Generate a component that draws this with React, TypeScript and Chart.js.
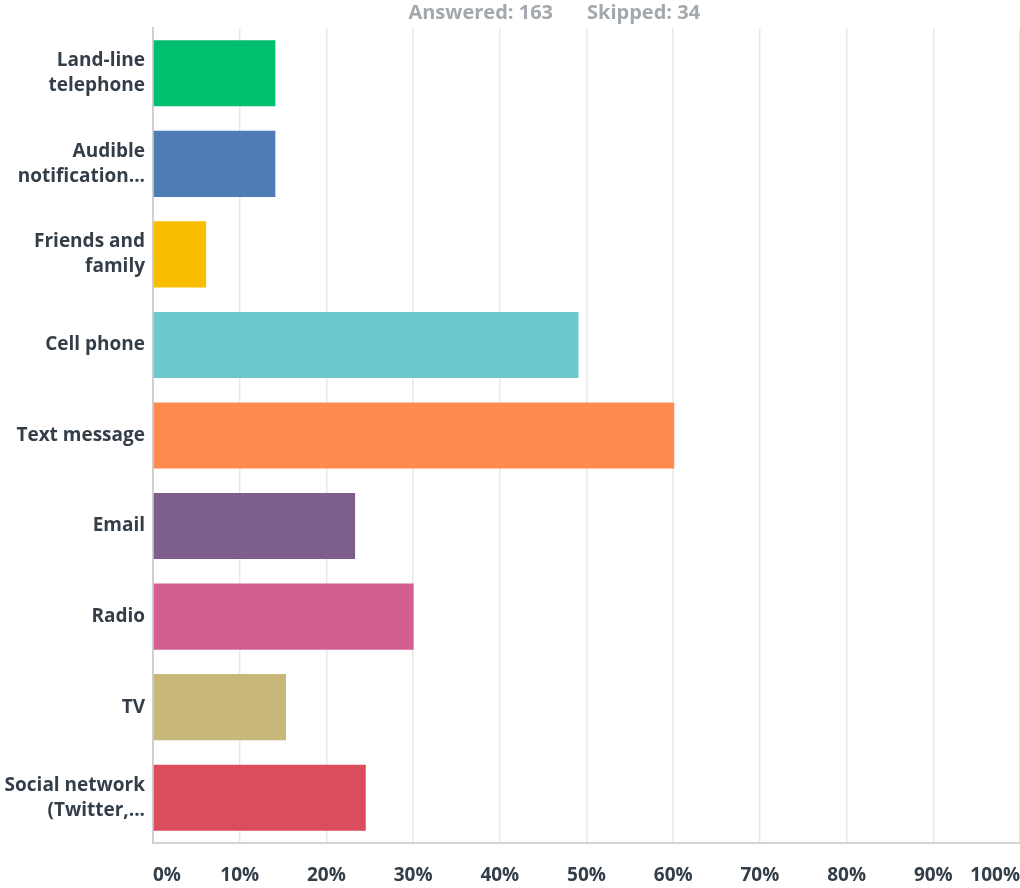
import React, { useEffect, useRef } from "react";
import { Chart, registerables } from "chart.js";

Chart.register(...registerables);

const categories: string[][] = [
  ["Land-line", "telephone"],
  ["Audible", "notification..."],
  ["Friends and", "family"],
  ["Cell phone"],
  ["Text message"],
  ["Email"],
  ["Radio"],
  ["TV"],
  ["Social network", "(Twitter,..."],
];

const percentValues: number[] = [14.11, 14.11, 6.13, 49.08, 60.12, 23.31, 30.06, 15.34, 24.54];

const barColors: string[] = [
  "#00BF6F",
  "#507CB6",
  "#F9BE00",
  "#6BC8CD",
  "#FF8B4F",
  "#7D5E8D",
  "#D25F90",
  "#C7B879",
  "#DB4D5C",
];

const answeredLabel = "Answered: 163";
const skippedLabel = "Skipped: 34";

const FONT = "'Open Sans', 'Noto Sans', sans-serif";
const TEXT_COLOR = "#333E48";

const overlayPlugin = {
  id: "overlayText",
  afterDraw(chart: any) {
    const ctx = chart.ctx;
    const xs = chart.scales.x;
    const area = chart.chartArea;
    ctx.save();
    // x tick labels
    ctx.font = `bold 19px ${FONT}`;
    ctx.fillStyle = TEXT_COLOR;
    ctx.textBaseline = "middle";
    const ticks = xs.ticks;
    ticks.forEach((t: any, i: number) => {
      const px = xs.getPixelForValue(t.value);
      ctx.textAlign = i === 0 ? "left" : i === ticks.length - 1 ? "right" : "center";
      ctx.fillText(`${t.value}%`, px, area.bottom + 33);
    });
    // header
    ctx.font = `bold 20px ${FONT}`;
    ctx.fillStyle = "#A2A8AD";
    const cx = 570;
    ctx.textAlign = "right";
    ctx.fillText(answeredLabel, cx - 17, 13);
    ctx.textAlign = "left";
    ctx.fillText(skippedLabel, cx + 17, 13);
    ctx.restore();
  },
};

export default function App() {
  const canvasRef = useRef<HTMLCanvasElement | null>(null);

  useEffect(() => {
    if (!canvasRef.current) return;
    const chart = new Chart(canvasRef.current, {
      type: "bar",
      data: {
        labels: categories,
        datasets: [
          {
            data: percentValues,
            backgroundColor: barColors,
            borderWidth: 0,
            categoryPercentage: 1,
            barPercentage: 0.73,
          },
        ],
      },
      options: {
        indexAxis: "y",
        animation: false,
        responsive: true,
        maintainAspectRatio: false,
        layout: { padding: { top: 28, left: 0, right: 0, bottom: 0 } },
        plugins: {
          legend: { display: false },
          tooltip: { enabled: false },
          title: { display: false },
        },
        scales: {
          x: {
            min: 0,
            max: 100,
            ticks: { display: false, stepSize: 10 },
            grid: { color: "#E8E8E8", lineWidth: 1.5, drawTicks: false },
            border: { display: true, color: "#D3D3D3", width: 2 },
            afterFit(scale: any) {
              scale.height = 45;
              scale.paddingLeft = 0;
              scale.paddingRight = 0;
            },
          },
          y: {
            ticks: {
              color: TEXT_COLOR,
              font: { family: FONT, size: 19, weight: "bold", lineHeight: 1.32 },
              padding: 8,
            },
            grid: { display: false, drawTicks: false },
            border: { display: true, color: "#CFCFCF", width: 2 },
            afterFit(scale: any) {
              scale.width = 153;
              scale.paddingTop = 0;
              scale.paddingBottom = 0;
            },
          },
        },
      },
      plugins: [overlayPlugin],
    });
    return () => chart.destroy();
  }, []);

  return (
    <div style={{ position: "absolute", left: 0, top: 0, width: 1020, height: 888 }}>
      <canvas ref={canvasRef} />
    </div>
  );
}
